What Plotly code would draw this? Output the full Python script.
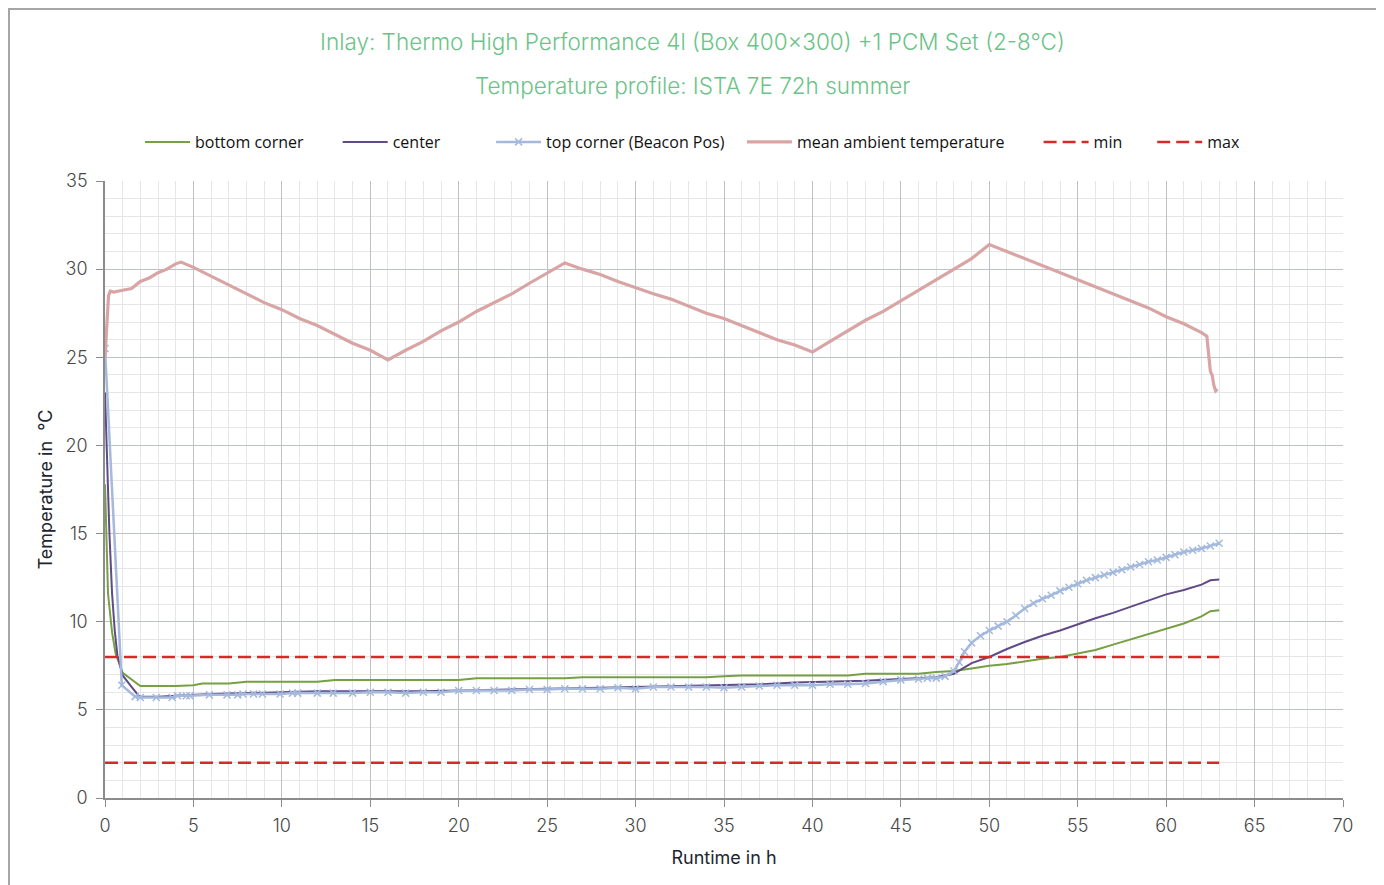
import plotly.graph_objects as go

# ---------------- data ----------------
ambient_t = [0, 0.1, 0.2, 0.3, 0.5, 1, 1.5, 2, 2.5, 3, 3.5, 4, 4.3, 5, 6, 7, 8, 9, 10, 11, 12, 13, 14, 15, 16,
             17, 18, 19, 20, 21, 22, 23, 24, 25, 26, 27, 28, 29, 30, 31, 32, 33, 34, 35, 36, 37, 38, 39, 40,
             41, 42, 43, 44, 45, 46, 47, 48, 49, 50, 51, 52, 53, 54, 55, 56, 57, 58, 59, 60, 61, 62, 62.3,
             62.4, 62.5, 62.6, 62.7, 62.8, 62.9]
ambient_v = [25.0, 27.0, 28.5, 28.75, 28.7, 28.8, 28.9, 29.3, 29.5, 29.8, 30.0, 30.3, 30.4, 30.1, 29.6, 29.1,
             28.6, 28.1, 27.7, 27.2, 26.8, 26.3, 25.8, 25.4, 24.85, 25.4, 25.9, 26.5, 27.0, 27.6, 28.1, 28.6,
             29.2, 29.8, 30.35, 30.0, 29.7, 29.3, 28.95, 28.6, 28.3, 27.9, 27.5, 27.2, 26.8, 26.4, 26.0, 25.7,
             25.3, 25.9, 26.5, 27.1, 27.6, 28.2, 28.8, 29.4, 30.0, 30.6, 31.4, 31.0, 30.6, 30.2, 29.8, 29.4,
             29.0, 28.6, 28.2, 27.8, 27.3, 26.9, 26.4, 26.2, 25.2, 24.2, 24.0, 23.4, 23.1, 23.2]

bottom_t = [0, 0.08, 0.17, 0.4, 0.6, 1.0, 1.5, 2, 3, 4, 5, 5.5, 7, 8, 10, 12, 13, 15, 17, 20, 21, 24, 26, 27,
            30, 34, 35, 36, 40, 42, 43, 46, 47, 48, 49, 50, 51, 52, 53, 54, 55, 56, 57, 58, 59, 60, 61, 62,
            62.5, 63]
bottom_v = [17.8, 14.0, 11.6, 9.4, 8.2, 7.1, 6.7, 6.35, 6.35, 6.35, 6.4, 6.5, 6.5, 6.6, 6.6, 6.6, 6.7, 6.7,
            6.7, 6.7, 6.8, 6.8, 6.8, 6.85, 6.85, 6.85, 6.9, 6.95, 6.95, 6.95, 7.05, 7.05, 7.15, 7.2, 7.35,
            7.5, 7.6, 7.75, 7.9, 8.0, 8.2, 8.4, 8.7, 9.0, 9.3, 9.6, 9.9, 10.3, 10.6, 10.65]

center_t = [0, 0.1, 0.25, 0.4, 0.55, 0.7, 1.0, 1.5, 1.9, 2, 3, 4, 5, 6, 8, 10, 12, 15, 18, 20, 22, 25, 28, 30,
            33, 35, 37, 39, 41, 43, 45, 47, 48, 48.5, 49, 50, 51, 52, 53, 54, 55, 56, 57, 58, 59, 60, 61, 62,
            62.5, 63]
center_v = [23.0, 19.5, 15.0, 11.6, 9.5, 8.1, 6.95, 6.3, 5.8, 5.75, 5.75, 5.8, 5.85, 5.9, 5.95, 6.0, 6.05,
            6.05, 6.05, 6.1, 6.15, 6.2, 6.25, 6.3, 6.35, 6.4, 6.45, 6.55, 6.6, 6.65, 6.75, 6.85, 7.05, 7.35,
            7.65, 8.0, 8.45, 8.85, 9.2, 9.5, 9.85, 10.2, 10.5, 10.85, 11.2, 11.55, 11.8, 12.1, 12.35, 12.4]

top_t = [0, 0.95, 1.7, 2.0, 2.9, 3.8, 4.1, 4.6, 4.8, 5.9, 6.9, 7.5, 7.8, 8.4, 8.9, 9.9, 10.6, 10.9, 12, 12.9,
         14, 15, 16, 17, 18, 19, 20, 21, 22, 23, 24, 25, 26, 27, 28, 29, 30, 31, 32, 33, 34, 35, 36, 37, 38,
         39, 40, 41, 42, 43, 44, 45, 46, 46.5, 47, 47.5, 48, 48.3, 48.6, 49, 49.5, 50, 50.5, 51, 51.5, 52,
         52.5, 53, 53.5, 54, 54.5, 55, 55.5, 56, 56.5, 57, 57.5, 58, 58.5, 59, 59.5, 60, 60.5, 61, 61.5, 62,
         62.5, 63]
top_v = [25.5, 6.4, 5.75, 5.7, 5.7, 5.7, 5.8, 5.8, 5.8, 5.85, 5.85, 5.85, 5.9, 5.9, 5.9, 5.9, 5.95, 5.95, 5.95,
         5.95, 5.95, 6.0, 6.0, 5.95, 6.0, 6.0, 6.1, 6.1, 6.1, 6.1, 6.15, 6.15, 6.2, 6.2, 6.2, 6.25, 6.2, 6.3,
         6.3, 6.3, 6.3, 6.25, 6.3, 6.35, 6.4, 6.4, 6.4, 6.45, 6.45, 6.5, 6.6, 6.7, 6.75, 6.8, 6.8, 6.9, 7.2,
         7.7, 8.3, 8.8, 9.2, 9.5, 9.75, 10.0, 10.35, 10.75, 11.05, 11.3, 11.5, 11.75, 11.95, 12.15, 12.35,
         12.5, 12.65, 12.8, 12.95, 13.1, 13.25, 13.4, 13.5, 13.65, 13.8, 13.95, 14.05, 14.15, 14.3, 14.45]

limit_t = [0, 63]
min_v = [2, 2]
max_v = [8, 8]

series_names = ["bottom corner", "center", "top corner (Beacon Pos)", "mean ambient temperature", "min", "max"]
title_1 = "Inlay: Thermo High Performance 4l (Box 400x300) +1 PCM Set (2-8°C)"
title_2 = "Temperature profile: ISTA 7E 72h summer"
x_title = "Runtime in h"
y_title = "Temperature in  °C"

# ---------------- figure ----------------
def padded(i, n):
    return series_names[i] + "\u00a0" * n

fig = go.Figure()
fig.add_trace(go.Scatter(x=bottom_t, y=bottom_v, name=padded(0, 7), mode="lines",
                         line=dict(color="#77a043", width=2)))
fig.add_trace(go.Scatter(x=center_t, y=center_v, name=padded(1, 11), mode="lines",
                         line=dict(color="#604a88", width=2)))
fig.add_trace(go.Scatter(x=top_t, y=top_v, name=padded(2, 3), mode="lines+markers",
                         line=dict(color="#a4b9dc", width=2.5),
                         marker=dict(symbol="x-thin", size=7, line=dict(color="#a4b9dc", width=1.5))))
fig.add_trace(go.Scatter(x=ambient_t, y=ambient_v, name=padded(3, 7), mode="lines",
                         line=dict(color="#d8a4a4", width=3.2)))
fig.add_trace(go.Scatter(x=limit_t, y=min_v, name=padded(4, 6), mode="lines",
                         line=dict(color="#d42a2a", width=2.5, dash="13px,6px")))
fig.add_trace(go.Scatter(x=limit_t, y=max_v, name=padded(5, 0), mode="lines",
                         line=dict(color="#d42a2a", width=2.5, dash="13px,6px")))

# page is offset by the 8px body margin
W, H = 1376, 877
L, T = 97, 173
PW, PH = 1238, 617
R, B = W - L - PW, H - T - PH

def px(xp):
    return (xp - 8 - L) / PW

def py(yp):
    return (T + PH - (yp - 8)) / PH

tick_font = dict(family="Inter", size=18, color="#474747", weight=300)
axis_title_font = dict(family="Inter", size=18, color="#1d2530")

fig.update_layout(
    width=W, height=H,
    margin=dict(l=L, r=R, t=T, b=B),
    paper_bgcolor="white", plot_bgcolor="white",
    showlegend=True,
    legend=dict(orientation="h", x=px(140), xanchor="left", y=py(142), yanchor="middle",
                font=dict(family="Open Sans", size=16, color="#111111"),
                itemwidth=45, bgcolor="rgba(0,0,0,0)"),
    xaxis=dict(range=[0, 70], dtick=5, tick0=0, showgrid=True, gridcolor="#bcc2c8", gridwidth=1,
               minor=dict(dtick=1, showgrid=True, gridcolor="#e4e6e8", gridwidth=1),
               showline=True, linecolor="#8c8c8c", linewidth=1.5, zeroline=False,
               ticks="outside", ticklen=7, tickcolor="#8c8c8c", tickfont=tick_font, ticklabelstandoff=4,
               title=dict(text=x_title, font=axis_title_font, standoff=16)),
    yaxis=dict(range=[0, 35], dtick=5, tick0=0, showgrid=True, gridcolor="#bcc2c8", gridwidth=1,
               minor=dict(dtick=1, showgrid=True, gridcolor="#e4e6e8", gridwidth=1),
               showline=True, linecolor="#8c8c8c", linewidth=1.5, zeroline=False,
               ticks="outside", ticklen=7, tickcolor="#8c8c8c", tickfont=tick_font, ticklabelstandoff=5,
               title=dict(text=y_title, font=axis_title_font, standoff=8)),
    annotations=[
        dict(text=title_1, xref="paper", yref="paper", x=px(692), y=py(41), xanchor="center",
             yanchor="middle", showarrow=False,
             font=dict(family="Inter", size=22.5, color="#6cc387", weight=300)),
        dict(text=title_2, xref="paper", yref="paper", x=px(692), y=py(85), xanchor="center",
             yanchor="middle", showarrow=False,
             font=dict(family="Inter", size=22.5, color="#6cc387", weight=300)),
    ],
    shapes=[
        dict(type="rect", xref="paper", yref="paper", x0=px(9), x1=px(1377), y0=py(900), y1=py(9),
             line=dict(color="#a6a6a6", width=2), fillcolor="rgba(0,0,0,0)", layer="below"),
    ],
)

fig.write_html("out.html")
